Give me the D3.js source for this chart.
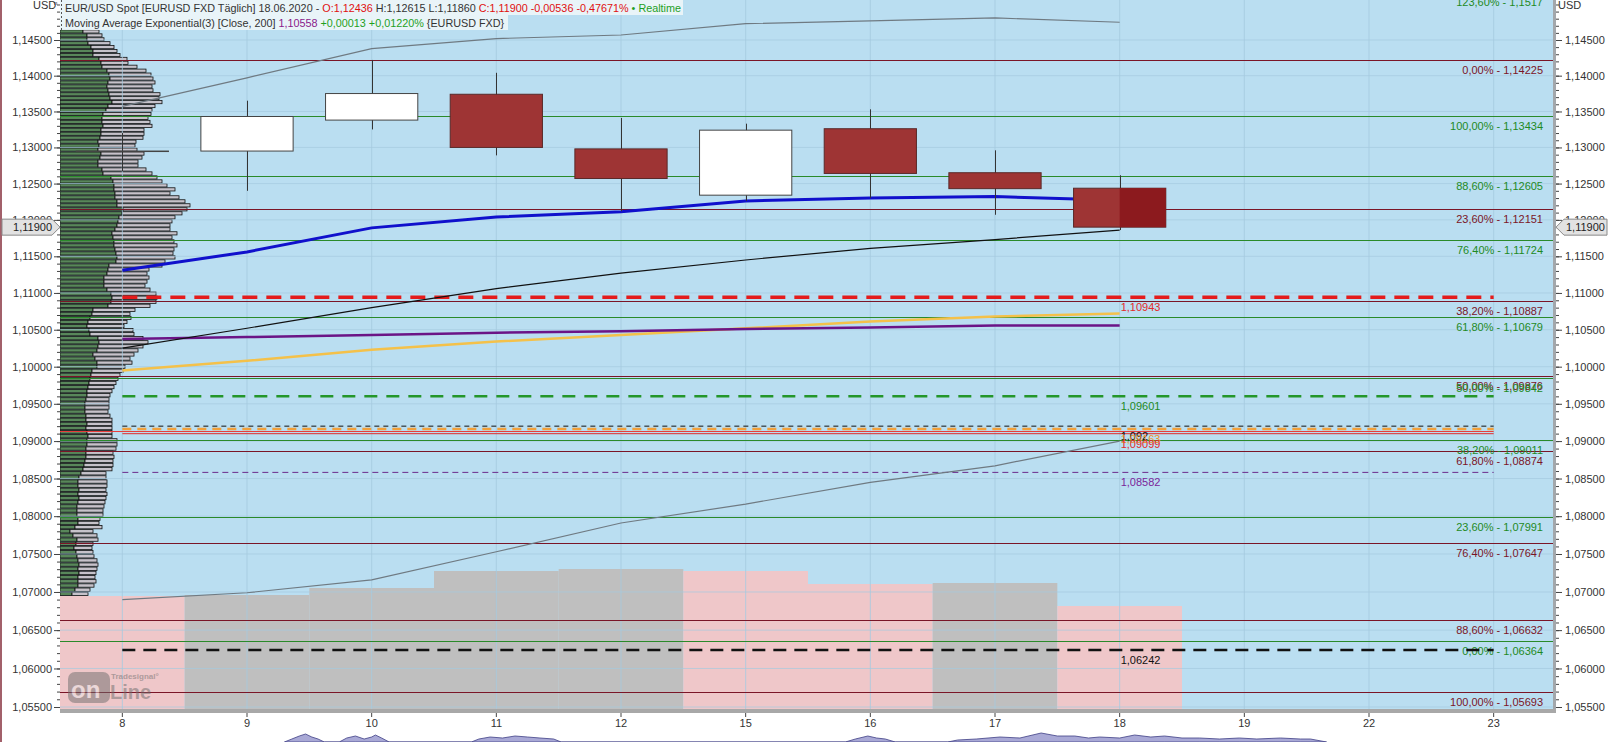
<!DOCTYPE html>
<html><head><meta charset="utf-8">
<script src="https://cdn.jsdelivr.net/npm/d3@7"></script>
<style>
body{margin:0;background:#fff;}
svg{display:block;font-family:"Liberation Sans",Arial,sans-serif;}
</style>
</head><body>
<svg id="c" width="1608" height="742"></svg>
<script>
// ---------------- DATA ----------------
const days = ["8","9","10","11","12","15","16","17","18","19","22","23"];
const candleDays = ["8","9","10","11","12","15","16","17","18"];
const open  = [1.1295,1.1295,1.1338,1.1374,1.1298,1.1234,1.1326,1.1265,1.12436];
const high  = [1.1320,1.1365,1.1422,1.1404,1.1341,1.1333,1.1353,1.1296,1.12615];
const low   = [1.1267,1.1240,1.1325,1.1289,1.1212,1.1226,1.1230,1.1207,1.11860];
const close = [1.1295,1.1343,1.1375,1.1300,1.1257,1.1324,1.1264,1.1243,1.11900];

const volume = [114,115,122,139,141,139,126,127,104];
const volumeSide = ["down","up","up","up","up","down","down","up","down"];

const emaBlue   = [1.1131,1.1156,1.1189,1.1204,1.1211,1.1226,1.1230,1.1232,1.1227];
const maBlack   = [1.1025,1.1052,1.1080,1.1106,1.1127,1.1145,1.1161,1.1173,1.1186];
const ema200    = [1.10375,1.1040,1.1043,1.1046,1.1048,1.1051,1.1053,1.10556,1.10558];
const maYellow  = [1.0995,1.1008,1.1023,1.1034,1.1043,1.1052,1.1061,1.1068,1.1072];
const bandUpper = [1.1357,1.1397,1.1438,1.1452,1.1457,1.1473,1.1477,1.1481,1.1475];
const bandLower = [1.0690,1.0699,1.0716,1.0753,1.0791,1.0816,1.0845,1.0867,1.0900];

const fibPct   = ["123,60%","0,00%","100,00%","88,60%","23,60%","76,40%","38,20%","61,80%","50,00%","50,00%","38,20%","61,80%","23,60%","76,40%","88,60%","0,00%","100,00%"];
const fibValue = [1.1517,1.14225,1.13434,1.12605,1.12151,1.11724,1.10887,1.10679,1.09876,1.09842,1.09011,1.08874,1.07991,1.07647,1.06632,1.06364,1.05693];
const fibText  = ["1,1517","1,14225","1,13434","1,12605","1,12151","1,11724","1,10887","1,10679","1,09876","1,09842","1,09011","1,08874","1,07991","1,07647","1,06632","1,06364","1,05693"];
const fibSet   = ["b","a","b","b","a","b","a","b","a","b","b","a","b","a","a","b","a"];

const markValue = [1.10943,1.09601,1.09200,1.09163,1.09128,1.09099,1.08582,1.06242];
const markLabel = ["1,10943","1,09601","1,092","1,09163","","1,09099","1,08582","1,06242"];
const markKind  = ["redDash","greenDash","blackDot","orangeDash","redFull","redLine","purpleDot","blackDash"];

const yTicks = [1.055,1.06,1.065,1.07,1.075,1.08,1.085,1.09,1.095,1.10,1.105,1.11,1.115,1.12,1.125,1.13,1.135,1.14,1.145];
const lastPrice = 1.119;

// volume profile (top row first), price bins
const profileTop = 1.1462, profileStep = 0.00055;
const profBuy = [23,27,27,28,31,33,33,39,41,42,47,49,50,48,47,48,49,50,52,48,46,43,42,42,43,41,41,40,38,39,38,41,40,38,38,42,43,51,53,54,54,55,55,57,57,63,62,59,58,57,55,52,53,54,54,55,56,57,56,49,48,47,44,44,44,47,51,52,51,48,
33,32,30,28,27,29,30,38,39,38,37,33,35,37,37,32,31,30,29,28,27,27,26,25,25,25,26,26,27,26,27,28,27,27,26,26,26,25,24,23,21,19,18,18,19,18,19,18,17,17,17,18,18,15,10,13,17,16,14,16,17,18,19,18,19,18,18,18,15,12];
const profTotal = [39,42,44,50,54,57,60,67,68,77,86,91,93,95,92,93,100,99,102,95,92,91,88,90,92,84,84,83,76,75,77,84,82,78,78,86,92,97,102,107,115,110,119,125,130,127,122,115,112,110,110,117,112,114,117,114,113,115,105,102,89,87,89,87,85,90,96,97,96,90,
75,70,71,67,64,73,74,83,88,83,78,74,70,72,65,63,60,58,56,54,52,50,49,49,49,48,50,52,52,52,52,52,57,57,56,53,54,53,53,52,46,46,47,47,46,47,46,45,44,43,43,40,39,42,33,37,38,33,32,33,34,37,38,37,36,35,36,34,30,28];

// lower pane (only its top edge is visible): position as day index, value
const lowerIdx = [1.30,1.36,1.42,1.47,1.52,1.57,1.62, 1.74,1.80,1.87,1.94,2.00,2.03,2.08,2.14, 2.80,2.86,2.95,3.05,3.15,3.25,3.35,3.46,3.52, 5.80,5.88,5.98,6.05,6.12,6.20,
  6.62,6.70,6.85,7.04,7.20,7.37,7.50,7.64,7.75,7.84,8.00,8.12,8.25,8.36,8.50,8.64,8.80,8.96,9.10,9.29,9.45,9.53,9.66];
const lowerVal = [0,3,6,8,5,3,0, 0,4,6,3,5,7,4,0, 0,3,5,4,6,5,4,3,0, 0,3,6,4,3,0,
  0,2,3,5,4,9,6,6,4,5,4,7,5,6,4,4,3,4,3,4,3,3,0];

// ---------------- LAYOUT ----------------
const L = 60, R = 1556, T = 0, B = 710;
const svg = d3.select("#c");
const y = d3.scaleLog().domain([1.055, 1.145]).range([707, 40]);
const x = d3.scaleBand().domain(days).range([L, R]).padding(0);
const bw = x.bandwidth();
const xc = d => x(d) + bw / 2;
const xi = d3.scaleLinear().domain([-0.5, days.length - 0.5]).range([L, R]);
const vy = d3.scaleLinear().domain([0, 150]).range([B, B - 150]);
const px = d3.scaleLinear().domain([0, 100]).range([L, L + 100]);
const ly2 = d3.scaleLinear().domain([0, 10]).range([742, 732]);
const fmt = v => v.toFixed(5).replace(".", ",");

svg.append("rect").attr("width",1608).attr("height",742).attr("fill","#fff");
svg.append("clipPath").attr("id","clip").append("rect")
  .attr("x",L).attr("y",T).attr("width",R-L).attr("height",B-T);
svg.append("rect").attr("x",L).attr("y",T).attr("width",R-L).attr("height",B-T).attr("fill","#badef1");
const g = svg.append("g").attr("clip-path","url(#clip)");

// volume bars
g.selectAll(".vol").data(candleDays).join("rect")
  .attr("x", d => x(d)).attr("width", bw)
  .attr("y", (d,i) => vy(volume[i])).attr("height", (d,i) => B - vy(volume[i]))
  .attr("fill", (d,i) => volumeSide[i] === "down" ? "#efc7c9" : "#bfbfbf");

// volume profile
const prof = profBuy.map((b,i) => ({p: profileTop - i*profileStep, b, t: profTotal[i]}));
const rowTop = d => y(d.p + profileStep/2) + 0.4;
const rowH = d => y(d.p - profileStep/2) - y(d.p + profileStep/2) - 0.8;
g.selectAll(".pg").data(prof).join("rect")
  .attr("x", px(0)).attr("width", d => px(d.b) - px(0))
  .attr("y", rowTop).attr("height", rowH)
  .attr("fill","#58875a").attr("stroke","#111").attr("stroke-width",0.8);
g.selectAll(".pt").data(prof).join("rect")
  .attr("x", d => px(d.b)).attr("width", d => px(d.t) - px(d.b))
  .attr("y", rowTop).attr("height", rowH)
  .attr("fill","#c7bfc7").attr("fill-opacity",0.92).attr("stroke","#111").attr("stroke-width",0.8);

// grid
g.selectAll(".hg").data(yTicks).join("line")
  .attr("x1",L).attr("x2",R).attr("y1",d=>y(d)).attr("y2",d=>y(d))
  .attr("stroke","#a6cbe0").attr("stroke-width",1).attr("opacity",0.7);
g.selectAll(".vg").data(days).join("line")
  .attr("x1",d=>xc(d)).attr("x2",d=>xc(d)).attr("y1",T).attr("y2",B)
  .attr("stroke","#a6cbe0").attr("stroke-width",1).attr("opacity",0.8);

// Tradesignal logo (watermark)
const logo = svg.append("g").attr("opacity",0.5);
logo.append("rect").attr("x",68).attr("y",672).attr("width",42).attr("height",31).attr("rx",7).attr("fill","#6d6d6d");
logo.append("text").attr("x",71).attr("y",698).attr("font-size",24).attr("font-weight","bold").attr("fill","#e8e8e8").text("on");
logo.append("text").attr("x",110).attr("y",699).attr("font-size",20).attr("font-weight","bold").attr("fill","#6d6d6d").text("Line");
logo.append("text").attr("x",111).attr("y",679).attr("font-size",8).attr("font-weight","bold").attr("fill","#6d6d6d").text("Tradesignal°");

// fib lines (full width)
const fibColor = s => s === "a" ? "#7a1527" : "#2a8a2a";
g.selectAll(".fib").data(fibValue).join("line")
  .attr("x1",L).attr("x2",R).attr("y1",d=>Math.round(y(d))+0.5).attr("y2",d=>Math.round(y(d))+0.5)
  .attr("stroke",(d,i)=>fibColor(fibSet[i])).attr("stroke-width",1);
g.selectAll(".fibt").data(fibValue).join("text")
  .attr("x",R-13).attr("y",d=>y(d)+14).attr("text-anchor","end")
  .attr("font-size",11).attr("fill",(d,i)=>fibSet[i]==="a" ? "#7a1527" : "#1f8a1f")
  .text((d,i)=>fibPct[i] + " - " + fibText[i]);

// marker lines
const mStyle = {
  redDash:   {c:"#e41b1b", w:3.5, da:"15,9", x0:"8"},
  greenDash: {c:"#24962a", w:2.5, da:"13,9", x0:"8"},
  blackDot:  {c:"#111",    w:1,   da:"5,4",  x0:"8"},
  orangeDash:{c:"#f2a03a", w:2.5, da:"9,6",  x0:"8"},
  redFull:   {c:"#e83a3a", w:1,   da:null,   x0:null},
  redLine:   {c:"#e22a2a", w:1,   da:null,   x0:"8"},
  purpleDot: {c:"#6a2a8a", w:1,   da:"6,4",  x0:"8"},
  blackDash: {c:"#111",    w:2.5, da:"13,8", x0:"8"}
};
const mColor = {redDash:"#e42a2a",greenDash:"#1f8a1f",blackDot:"#111",orangeDash:"#f0902a",redFull:"#e42a2a",redLine:"#e42a2a",purpleDot:"#7a1f9a",blackDash:"#111"};
g.selectAll(".mk").data(markValue).join("line")
  .attr("x1",(d,i)=> mStyle[markKind[i]].x0 ? xc("8") : L)
  .attr("x2",xc("23"))
  .attr("y1",d=>y(d)).attr("y2",d=>y(d))
  .attr("stroke",(d,i)=>mStyle[markKind[i]].c)
  .attr("stroke-width",(d,i)=>mStyle[markKind[i]].w)
  .attr("stroke-dasharray",(d,i)=>mStyle[markKind[i]].da);
g.selectAll(".mkt").data(markValue).join("text")
  .attr("x",xc("18")+1).attr("y",d=>y(d)+14)
  .attr("font-size",11).attr("fill",(d,i)=>mColor[markKind[i]])
  .text((d,i)=>markLabel[i]);

// indicator lines
const line = d3.line().x((d,i)=>xc(candleDays[i])).y(d=>y(d));
const ind = [
  [bandUpper,"#6f7a82",1.2],
  [bandLower,"#6f7a82",1.2],
  [maYellow,"#f4c14a",2.5],
  [ema200,"#6b1486",2.5],
  [maBlack,"#111",1.2],
  [emaBlue,"#1010cc",3]
];
ind.forEach(([arr,c,w]) => {
  g.append("path").attr("d", line(arr)).attr("fill","none").attr("stroke",c).attr("stroke-width",w);
});

// candles
const cw = bw * 0.74;
const cg = g.append("g");
cg.selectAll(".wick").data(candleDays).join("line")
  .attr("x1",d=>Math.round(xc(d))+0.5).attr("x2",d=>Math.round(xc(d))+0.5)
  .attr("y1",(d,i)=>y(high[i])).attr("y2",(d,i)=>y(low[i]))
  .attr("stroke","#333").attr("stroke-width",1);
cg.selectAll(".body").data(candleDays).join("rect")
  .attr("x",d=>xc(d)-cw/2).attr("width",cw)
  .attr("y",(d,i)=>y(Math.max(open[i],close[i])))
  .attr("height",(d,i)=>Math.max(0.5, y(Math.min(open[i],close[i])) - y(Math.max(open[i],close[i]))))
  .attr("fill",(d,i)=> close[i] >= open[i] ? "#ffffff" : "#9e3434")
  .attr("stroke",(d,i)=> close[i] >= open[i] ? "#444" : "#5a2a2a").attr("stroke-width",1);
const li = candleDays.length - 1;
cg.append("rect").attr("x",xc("18")).attr("width",cw/2)
  .attr("y",y(open[li])).attr("height",y(close[li])-y(open[li]))
  .attr("fill","#8c1a1e");

// frame
svg.append("rect").attr("x",R-3).attr("y",T).attr("width",3).attr("height",B+3-T).attr("fill","#a3a7ab");
svg.append("rect").attr("x",L).attr("y",B-1).attr("width",R-L).attr("height",4).attr("fill","#a8a8a8");
svg.append("rect").attr("x",0).attr("y",0).attr("width",2).attr("height",742).attr("fill","#a2606a");

// lower pane top edge
const area = d3.area().x((d,i)=>xi(lowerIdx[i])).y0(ly2(0)).y1(d=>ly2(d));
svg.append("path").attr("d",area(lowerVal)).attr("fill","#a9a9d6").attr("stroke","#3f3f85").attr("stroke-width",0.8);

// axes
const minor = d3.range(1.055, 1.1505, 0.001);
const axL = svg.append("g").attr("transform",`translate(${L},0)`)
  .call(d3.axisLeft(y).tickValues(yTicks).tickFormat(fmt).tickSize(6).tickPadding(2));
const axLm = svg.append("g").attr("transform",`translate(${L},0)`)
  .call(d3.axisLeft(y).tickValues(minor).tickFormat("").tickSize(3));
const axR = svg.append("g").attr("transform",`translate(${R},0)`)
  .call(d3.axisRight(y).tickValues(yTicks).tickFormat(fmt).tickSize(6).tickPadding(3));
const axRm = svg.append("g").attr("transform",`translate(${R},0)`)
  .call(d3.axisRight(y).tickValues(minor).tickFormat("").tickSize(3));
const axB = svg.append("g").attr("transform",`translate(0,${B+3})`)
  .call(d3.axisBottom(x).tickSize(4).tickPadding(2));
[axL,axLm,axR,axRm,axB].forEach(a=>{
  a.select(".domain").remove();
  a.selectAll("text").attr("font-size",11).attr("fill","#333").attr("font-family","Liberation Sans, Arial, sans-serif");
  a.selectAll("line").attr("stroke","#444");
});

// last price markers
const ly = y(lastPrice);
svg.append("path").attr("d",`M2,${ly-8}H52L60,${ly}L52,${ly+8}H2Z`).attr("fill","#e2e2e2").attr("stroke","#8a8a8a");
svg.append("text").attr("x",52).attr("y",ly+4).attr("text-anchor","end").attr("font-size",11).attr("fill","#222").text(fmt(lastPrice));
svg.append("path").attr("d",`M${R},${ly}L${R+8},${ly-8}H1607V${ly+8}H${R+8}Z`).attr("fill","#e2e2e2").attr("stroke","#8a8a8a");
svg.append("text").attr("x",R+10).attr("y",ly+4).attr("font-size",11).attr("fill","#222").text(fmt(lastPrice));

// unit labels
svg.append("text").attr("x",33).attr("y",9).attr("font-size",11).attr("fill","#333").text("USD");
svg.append("text").attr("x",54).attr("y",5).attr("font-size",6).attr("fill","#333").text("n");
svg.append("text").attr("x",R+2).attr("y",9).attr("font-size",11).attr("fill","#333").text("USD");

// legend
const leg = svg.append("g");
leg.append("rect").attr("x",L).attr("y",0).attr("width",623).attr("height",15).attr("fill","#edf5f9").attr("opacity",0.93);
leg.append("rect").attr("x",L).attr("y",15).attr("width",448).attr("height",15).attr("fill","#edf5f9").attr("opacity",0.93);
leg.append("line").attr("x1",L+1.5).attr("x2",L+1.5).attr("y1",0).attr("y2",30).attr("stroke","#555").attr("stroke-dasharray","2,2");
const t1 = leg.append("text").attr("x",L+5).attr("y",12).attr("font-size",10.8);
[["EUR/USD Spot [EURUSD FXD Täglich] 18.06.2020 - ","#333"],["O:1,12436","#e01010"],[" H:1,12615 L:1,11860 ","#333"],
 ["C:1,11900 -0,00536 -0,47671%","#e01010"],[" \u2022 Realtime","#1ea01e"]].forEach(([s,c])=>t1.append("tspan").attr("fill",c).text(s));
const t2 = leg.append("text").attr("x",L+5).attr("y",27).attr("font-size",10.8);
[["Moving Average Exponential(3) [Close, 200] ","#333"],["1,10558","#8a1a8a"],[" +0,00013 +0,01220%","#1ea01e"],[" {EURUSD FXD}","#333"]]
  .forEach(([s,c])=>t2.append("tspan").attr("fill",c).text(s));
</script>
</body></html>
